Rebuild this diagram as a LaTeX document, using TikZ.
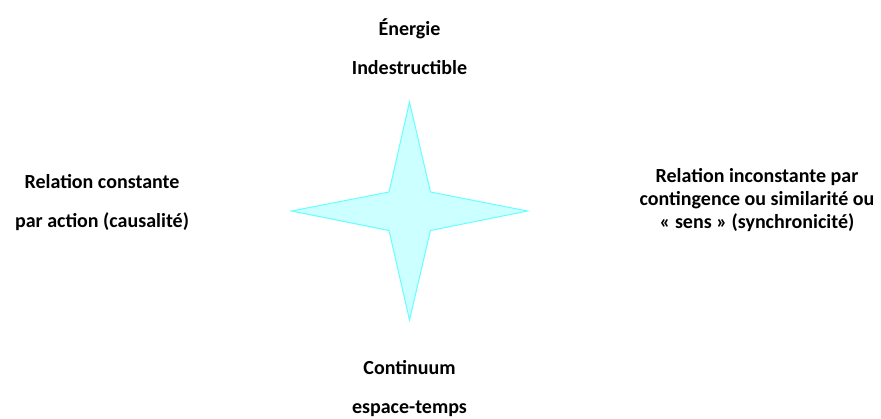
\documentclass[tikz,border=0pt]{standalone}
\usepackage{fontspec}
\setmainfont{Carlito}
\definecolor{starfill}{RGB}{204,255,255}
\definecolor{starline}{RGB}{102,255,255}
\begin{document}
\begin{tikzpicture}[x=1bp,y=-1bp,
  lbl/.style={font=\bfseries\fontsize{20bp}{23bp}\selectfont, align=center, inner sep=0pt},
  starshape/.style={fill=starfill, draw=starline, line width=1bp, line join=miter}]
\useasboundingbox (0,0) rectangle (881,418);
\coordinate (c) at (409.5,211);
\draw[starshape] (409.5,102) -- (430.5,192) -- (527.5,211) -- (430.5,230.5) -- (409.5,320)
  -- (389,230.5) -- (291.5,211) -- (389,192) -- cycle;
\node[lbl] (top) at (409.5,46.5) {Énergie\\[16bp]Indestructible};
\node[lbl] (left) at (102,202.5) {Relation constante\\[16bp]par action (causalité)};
\node[lbl] (right) at (757,200) {Relation inconstante par\\contingence ou similarité ou\\« sens » (synchronicité)};
\node[lbl] (bottom) at (409.5,388.5) {Continuum\\[16bp]espace-temps};
\end{tikzpicture}
\end{document}
